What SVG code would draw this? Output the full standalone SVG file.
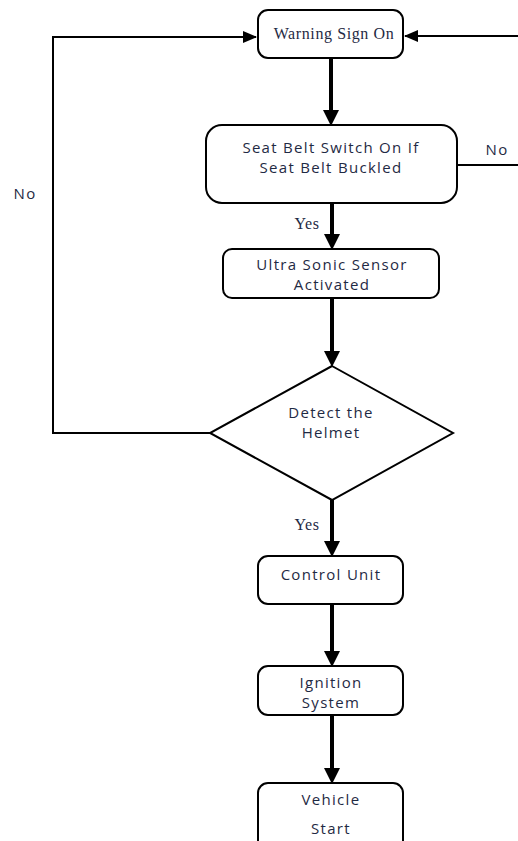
<svg xmlns="http://www.w3.org/2000/svg" width="518" height="841" viewBox="0 0 518 841">
<style>
.box{fill:#fff;stroke:#000;stroke-width:2}
.t{font-family:"Open Sans","Liberation Sans",sans-serif;font-size:15px;letter-spacing:1.3px;fill:#1f2a44;text-anchor:middle}
.ts{font-family:"Liberation Serif",serif;font-size:16px;letter-spacing:0.6px;fill:#1f2a44;text-anchor:middle}
.thick{stroke:#000;stroke-width:4;fill:none}
.thin{stroke:#000;stroke-width:2;fill:none}
</style>
<defs>
<marker id="ah" markerWidth="4" markerHeight="4" refX="3" refY="2" orient="auto" markerUnits="strokeWidth">
<path d="M0,0 L4,2 L0,4 z" fill="#000"/>
</marker>
<marker id="ahs" markerWidth="7" markerHeight="6" refX="6.5" refY="3" orient="auto" markerUnits="strokeWidth">
<path d="M0,0 L7,3 L0,6 z" fill="#000"/>
</marker>
</defs>
<rect width="518" height="841" fill="#fff"/>
<g id="connectors">
<path class="thick" d="M331,58 V122" marker-end="url(#ah)"/>
<path class="thick" d="M332,203 V246" marker-end="url(#ah)"/>
<path class="thick" d="M332,298 V363" marker-end="url(#ah)"/>
<path class="thick" d="M332,500 V553" marker-end="url(#ah)"/>
<path class="thick" d="M332,604 V663" marker-end="url(#ah)"/>
<path class="thick" d="M332,715 V780" marker-end="url(#ah)"/>
<path class="thin" d="M210,433 H53 V37 H256" marker-end="url(#ahs)"/>
<path class="thin" d="M457,165 H518"/>
<path class="thin" d="M518,36 H405" marker-end="url(#ahs)"/>
<text class="t" x="25" y="199">No</text>
<text class="t" x="497" y="155">No</text>
<text class="ts" x="307" y="229">Yes</text>
<text class="ts" x="307" y="530">Yes</text>
</g>
<g id="warning">
<rect class="box" x="258" y="10" width="145" height="48" rx="10"/>
<text class="ts" x="334" y="39">Warning Sign On</text>
</g>
<g id="seatbelt">
<rect class="box" x="206" y="125" width="251" height="78" rx="16"/>
<text class="t" x="331" y="153">Seat Belt Switch On If</text>
<text class="t" x="331" y="173">Seat Belt Buckled</text>
</g>
<g id="ultrasonic">
<rect class="box" x="223" y="249" width="216" height="49" rx="9"/>
<text class="t" x="332" y="270">Ultra Sonic Sensor</text>
<text class="t" x="332" y="290">Activated</text>
</g>
<g id="detect">
<polygon class="box" points="332,366 453,433 332,500 210,433"/>
<text class="t" x="331" y="418">Detect the</text>
<text class="t" x="331" y="438">Helmet</text>
</g>
<g id="control">
<rect class="box" x="258" y="556" width="145" height="48" rx="10"/>
<text class="t" x="331" y="580">Control Unit</text>
</g>
<g id="ignition">
<rect class="box" x="258" y="666" width="145" height="49" rx="10"/>
<text class="t" x="331" y="688">Ignition</text>
<text class="t" x="331" y="708">System</text>
</g>
<g id="vehicle">
<rect class="box" x="258" y="783" width="145" height="70" rx="10"/>
<text class="t" x="331" y="805">Vehicle</text>
<text class="t" x="331" y="834">Start</text>
</g>
</svg>
